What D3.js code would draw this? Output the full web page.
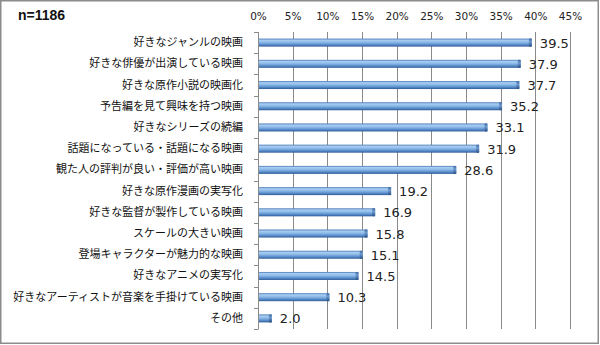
<!DOCTYPE html>
<html><head><meta charset="utf-8">
<script src="https://cdn.jsdelivr.net/npm/d3@7"></script>
<style>body{margin:0;background:#fff}svg{display:block}</style>
</head><body><svg id="c" width="600" height="345"></svg>
<script>
const categories = ["好きなジャンルの映画","好きな俳優が出演している映画","好きな原作小説の映画化","予告編を見て興味を持つ映画","好きなシリーズの続編","話題になっている・話題になる映画","観た人の評判が良い・評価が高い映画","好きな原作漫画の実写化","好きな監督が製作している映画","スケールの大きい映画","登場キャラクターが魅力的な映画","好きなアニメの実写化","好きなアーティストが音楽を手掛けている映画","その他"];
const values = [39.5,37.9,37.7,35.2,33.1,31.9,28.6,19.2,16.9,15.8,15.1,14.5,10.3,2.0];
const ticks = [0,5,10,15,20,25,30,35,40,45];
const sampleNote = "n=1186";

const svg = d3.select("#c");
const defs = svg.append("defs");
const g1 = defs.append("linearGradient").attr("id","bar").attr("x1",0).attr("y1",0).attr("x2",0).attr("y2",1);
[[0,"#4677b5"],[0.2,"#a9cdf2"],[0.45,"#8dbbe9"],[0.75,"#5a8dcb"],[1,"#2e5c97"]].forEach(s=>g1.append("stop").attr("offset",s[0]).attr("stop-color",s[1]));
const g2 = defs.append("linearGradient").attr("id","cap").attr("x1",0).attr("y1",0).attr("x2",0).attr("y2",1);
[[0,"#3b68a0"],[0.4,"#6f9bd0"],[1,"#284f83"]].forEach(s=>g2.append("stop").attr("offset",s[0]).attr("stop-color",s[1]));

svg.append("rect").attr("x",0.75).attr("y",0.75).attr("width",597.5).attr("height",342.5)
  .attr("fill","#fff").attr("stroke","#8c8c8c").attr("stroke-width",1.5);

const x = d3.scaleLinear().domain([0,45]).range([258,570]);
const y = d3.scaleBand().domain(categories).range([32,329]);

// gridlines
svg.append("g").selectAll("line").data(ticks.slice(1)).join("line")
  .attr("x1",d=>Math.round(x(d))+0.5).attr("x2",d=>Math.round(x(d))+0.5)
  .attr("y1",32).attr("y2",329).attr("stroke","#8a8a8a").attr("stroke-width",1);

// top tick labels
const xAxis = d3.axisTop(x).tickValues(ticks).tickFormat(d=>d+"%").tickSize(0).tickPadding(0);
const ax = svg.append("g").attr("transform","translate(0,20)").call(xAxis);
ax.select(".domain").remove();
ax.selectAll("text").attr("font-family","DejaVu Sans").attr("font-size",10.5).attr("fill","#222").attr("dy",0);

// y axis
const yAxis = d3.axisLeft(y).tickSize(0).tickPadding(15);
const ay = svg.append("g").attr("transform","translate(258,0)").call(yAxis);
ay.select(".domain").attr("stroke","#8a8a8a").attr("d","M0.5,32V329");
ay.selectAll("text").attr("font-family","Noto Sans CJK JP").attr("font-size",11).attr("fill","#111");
// minor tick marks at band edges
const edges = categories.map(c=>y(c)).concat([329]);
svg.append("g").selectAll("line").data(edges).join("line")
  .attr("x1",254).attr("x2",258.5).attr("y1",d=>Math.round(d)+0.5).attr("y2",d=>Math.round(d)+0.5)
  .attr("stroke","#8a8a8a");

const bh = 8;
const bars = svg.append("g").selectAll("g").data(categories).join("g");
bars.append("rect").attr("x",x(0)+1).attr("y",d=>y(d)+y.bandwidth()/2-bh/2)
  .attr("width",(d,i)=>x(values[i])-x(0)-1).attr("height",bh).attr("fill","url(#bar)");
bars.append("rect").attr("x",(d,i)=>x(values[i])-3).attr("y",d=>y(d)+y.bandwidth()/2-bh/2)
  .attr("width",3).attr("height",bh).attr("rx",1.2).attr("fill","url(#cap)");
bars.append("text").attr("x",(d,i)=>x(values[i])+8).attr("y",d=>y(d)+y.bandwidth()/2+5)
  .attr("font-family","DejaVu Sans").attr("font-size",13).attr("fill","#222")
  .text((d,i)=>values[i].toFixed(1));

svg.append("text").attr("x",18).attr("y",20).attr("font-family","Liberation Sans").attr("font-weight","bold")
  .attr("font-size",14).attr("fill","#111").text(sampleNote);
</script></body></html>
